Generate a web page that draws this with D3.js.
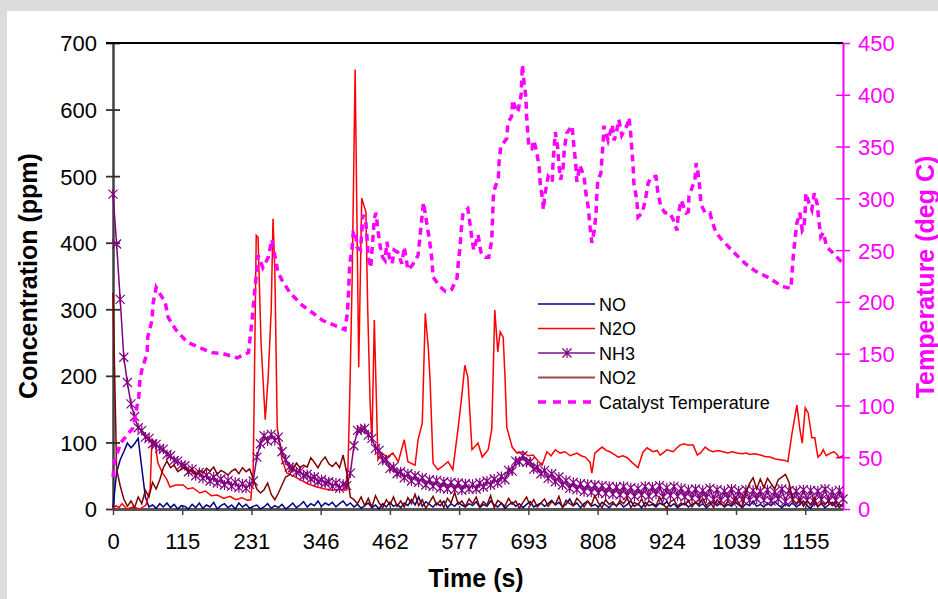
<!DOCTYPE html>
<html lang="en">
<head>
<meta charset="utf-8">
<title>Concentration and Catalyst Temperature</title>
<script src="https://cdn.jsdelivr.net/npm/d3@7"></script>
<style>
  body { margin: 0; background: #dcdcdc; }
  svg { display: block; }
  text { font-family: "Liberation Sans", Arial, sans-serif; }
</style>
</head>
<body>
<script>
// sample grid for the dense analyser series (s)
const sampleTime = d3.range(0, 1219, 6);

const noValues = [
  2, 55, 74, 86, 99, 92, 98, 106, 62, 18, 3, 6, 1, 8, 3, 9, 2, 7, 0, 5,
  4, 0, 7, 2, 9, 1, 6, 3, 10, 0, 5, 8, 2, 6, 0, 9, 3, 7, 1, 4,
  6, 0, 3, 8, 1, 5, 2, 7, 0, 4, 9, 2, 6, 11, 3, 8, 5, 12, 4, 9,
  6, 10, 3, 8, 12, 5, 9, 3, 7, 1, 5, 9, 2, 6, 0, 8, 3, 10, 4, 7,
  2, 9, 5, 14, 6, 18, 4, 11, 7, 3, 9, 5, 12, 2, 8, 4, 10, 6, 3, 8,
  5, 11, 2, 7, 4, 12, 6, 3, 9, 1, 6, 10, 4, 8, 2, 7, 11, 3, 6, 9,
  4, 8, 13, 6, 10, 3, 7, 15, 5, 9, 2, 8, 12, 4, 7, 3, 10, 6, 2, 8,
  5, 9, 3, 7, 12, 4, 8, 2, 10, 5, 7, 3, 9, 6, 11, 4, 8, 2, 6, 9,
  3, 7, 10, 4, 8, 2, 6, 11, 5, 9, 3, 7, 4, 10, 6, 2, 8, 5, 12, 4,
  7, 3, 9, 5, 11, 6, 2, 8, 4, 10, 3, 7, 12, 5, 1, 9, 4, 8, 2, 6,
  10, 3, 7, 4
];

const nh3Values = [
  473, 398, 315, 228, 190, 158, 139, 122, 118, 108, 106, 98, 97, 91, 90, 82, 80, 73, 72, 66,
  65, 56, 60, 50, 55, 46, 51, 42, 48, 39, 45, 36, 43, 34, 40, 32, 38, 31, 37, 42,
  78, 98, 110, 102, 112, 103, 108, 86, 74, 63, 62, 55, 57, 50, 52, 45, 48, 41, 44, 39,
  41, 34, 39, 31, 37, 35, 54, 95, 118, 119, 121, 111, 106, 91, 88, 73, 74, 61, 63, 53,
  56, 47, 53, 42, 50, 40, 47, 36, 44, 34, 43, 31, 41, 30, 40, 29, 39, 28, 38, 30,
  37, 30, 39, 33, 42, 36, 45, 39, 49, 44, 58, 57, 72, 71, 80, 70, 71, 60, 63, 53,
  58, 46, 53, 41, 48, 36, 43, 31, 40, 29, 38, 26, 37, 25, 36, 24, 35, 23, 34, 22,
  33, 21, 34, 20, 32, 19, 31, 21, 34, 19, 33, 22, 35, 18, 32, 20, 34, 19, 31, 18,
  29, 16, 30, 15, 28, 17, 31, 14, 29, 13, 27, 16, 30, 12, 27, 14, 29, 13, 28, 15,
  27, 13, 29, 12, 26, 15, 30, 11, 28, 14, 27, 12, 29, 13, 28, 11, 27, 14, 30, 12,
  26, 13, 28, 15
];

const no2Values = [
  325, 60, 35, 15, 4, 12, 2, 18, 8, 28, 18, 40, 30, 44, 62, 72, 62, 66, 56, 60,
  62, 55, 60, 52, 58, 54, 61, 57, 63, 52, 58, 55, 51, 57, 60, 53, 62, 56, 60, 45,
  30, 24, 29, 39, 22, 14, 24, 36, 48, 51, 60, 69, 62, 66, 63, 77, 70, 62, 72, 78,
  68, 64, 70, 62, 81, 54, 18, 14, 8, 18, 5, 16, 3, 20, 9, 2, 14, 6, 18, 4,
  12, 3, 17, 8, 22, 5, 14, 1, 10, 19, 6, 13, 2, 16, 9, 25, 7, 12, 4, 15,
  8, 18, 3, 11, 6, 20, 2, 13, 9, 4, 16, 7, 12, 1, 10, 18, 5, 14, 3, 9,
  15, 4, 11, 7, 19, 2, 13, 8, 5, 16, 10, 3, 12, 6, 20, 9, 2, 14, 7, 11,
  4, 13, 8, 17, 2, 10, 6, 15, 3, 12, 9, 5, 18, 7, 1, 11, 14, 4, 9, 6,
  13, 3, 10, 7, 16, 5, 11, 2, 14, 8, 4, 12, 6, 18, 9, 3, 24, 38, 47, 30,
  45, 32, 46, 38, 30, 44, 48, 52, 40, 14, 8, 15, 4, 12, 6, 17, 3, 10, 7, 13,
  5, 11, 2, 8
];

// [time s, ppm]
const n2oPoints = [
  [0,0],[5,5],[10,2],[15,8],[23,0],[33,3],[45,0],[55,6],[62,30],[65,105],
  [70,100],[75,69],[82,55],[90,44],[95,33],[105,36],[117,36],[125,30],[133,32],[145,24],
  [154,27],[164,20],[174,21],[185,16],[195,19],[205,14],[215,17],[225,13],[230,14],[234,60],
  [239,411],[242,408],[247,250],[254,134],[259,200],[264,300],[267,436],[270,360],[274,123],[282,74],
  [290,54],[300,50],[312,44],[325,38],[340,33],[354,30],[367,28],[379,30],[387,28],[392,60],
  [395,168],[399,344],[404,660],[410,213],[415,467],[422,446],[425,300],[429,160],[432,100],[436,284],
  [439,180],[442,74],[449,84],[457,78],[467,84],[476,71],[486,104],[492,71],[504,66],[509,104],
  [516,129],[521,294],[526,243],[529,194],[534,69],[542,59],[551,65],[559,71],[567,59],[576,123],
  [582,170],[587,216],[592,198],[599,89],[609,99],[616,78],[626,89],[632,120],[637,299],[642,236],
  [646,266],[651,258],[654,200],[657,123],[666,93],[674,84],[684,86],[692,80],[701,81],[709,72],
  [716,66],[724,86],[731,80],[738,89],[746,84],[754,86],[763,80],[774,84],[781,80],[788,78],
  [796,70],[799,54],[804,84],[816,93],[823,88],[829,86],[836,82],[843,78],[851,80],[858,77],
  [866,70],[876,62],[884,85],[891,92],[901,86],[908,88],[913,81],[919,85],[924,89],[935,86],
  [941,92],[946,96],[953,98],[958,96],[968,96],[975,81],[981,85],[988,93],[995,88],[1001,86],
  [1010,88],[1018,86],[1026,84],[1033,86],[1041,84],[1050,83],[1056,84],[1063,82],[1071,83],[1080,81],
  [1088,79],[1096,78],[1105,75],[1113,74],[1121,73],[1126,71],[1133,114],[1141,156],[1146,120],[1150,99],
  [1155,152],[1160,144],[1166,107],[1171,107],[1176,78],[1181,82],[1185,89],[1190,80],[1197,84],[1203,86],
  [1208,82],[1211,77],[1218,80]
];

// [time s, deg C]
const tempPoints = [
  [0,31],[3,47],[13,64],[33,78],[38,93],[43,108],[45,125],[48,134],[57,151],[58,166],
  [65,182],[67,199],[72,214],[78,208],[87,200],[92,185],[105,173],[124,161],[140,157],[165,151],
  [184,150],[207,146],[226,151],[232,182],[237,214],[240,231],[242,245],[250,233],[259,243],[265,260],
  [270,245],[275,229],[282,221],[295,209],[315,197],[334,189],[350,182],[367,178],[387,173],[391,189],
  [393,209],[395,237],[399,252],[401,268],[405,268],[407,253],[413,250],[415,267],[417,284],[422,276],
  [424,260],[426,243],[430,233],[434,264],[436,281],[439,286],[442,269],[446,253],[450,243],[454,240],
  [457,258],[461,243],[466,237],[469,250],[475,248],[482,237],[486,253],[492,231],[500,236],[509,245],
  [512,262],[518,296],[524,274],[528,260],[532,242],[534,224],[545,215],[555,210],[565,212],[574,223],
  [576,237],[579,253],[581,269],[584,286],[592,290],[596,274],[599,260],[602,250],[609,265],[614,248],
  [621,243],[627,243],[632,260],[633,276],[634,292],[635,306],[643,320],[644,334],[647,350],[651,353],
  [657,358],[659,373],[665,379],[667,395],[674,383],[676,385],[681,400],[683,429],[686,411],[689,397],
  [690,380],[692,364],[694,349],[699,348],[702,356],[707,345],[711,330],[713,313],[717,298],[718,289],
  [721,305],[726,321],[733,316],[734,332],[736,349],[738,364],[742,349],[744,332],[747,318],[751,330],
  [753,347],[757,363],[766,370],[769,350],[772,334],[774,316],[779,332],[786,321],[789,305],[793,291],
  [796,272],[799,257],[803,269],[806,286],[807,301],[809,318],[814,324],[816,340],[818,356],[819,370],
  [826,356],[833,371],[836,356],[839,361],[844,376],[849,361],[858,371],[861,378],[864,361],[866,345],
  [868,329],[869,315],[874,298],[876,282],[883,286],[888,298],[893,315],[899,321],[906,321],[909,306],
  [914,292],[921,286],[929,286],[935,279],[941,269],[943,284],[948,298],[956,286],[960,287],[961,302],
  [971,318],[973,334],[976,325],[979,310],[981,294],[988,286],[996,286],[999,279],[1006,267],[1016,260],
  [1024,255],[1039,246],[1055,237],[1071,230],[1095,223],[1116,215],[1131,213],[1133,228],[1135,244],[1138,261],
  [1141,276],[1146,286],[1150,269],[1153,272],[1155,289],[1156,305],[1161,296],[1166,289],[1170,305],[1175,294],
  [1178,277],[1181,263],[1185,267],[1191,253],[1200,248],[1213,240],[1218,238]
];

const timeTicks = [0, 115.5, 231, 346.5, 462, 577.5, 693, 808.5, 924, 1039.5, 1155];
const timeLabels = ["0", "115", "231", "346", "462", "577", "693", "808", "924", "1039", "1155"];
const concTicks = [0, 100, 200, 300, 400, 500, 600, 700];
const tempTicks = [0, 50, 100, 150, 200, 250, 300, 350, 400, 450];
const legendNames = ["NO", "N2O", "NH3", "NO2", "Catalyst Temperature"];

const W = 938, H = 599;
const plotL = 113, plotR = 843, plotT = 43, plotB = 509;
const magenta = "#ff00ff";

const svg = d3.select("body").append("svg").attr("width", W).attr("height", H);
svg.append("rect").attr("width", W).attr("height", H).attr("fill", "#dcdcdc");
svg.append("rect").attr("x", 7).attr("y", 11).attr("width", W - 7).attr("height", H - 11).attr("fill", "#fff");

const x = d3.scaleLinear().domain([0, 1218]).range([plotL, plotR]);
const yL = d3.scaleLinear().domain([0, 700]).range([plotB, plotT]);
const yR = d3.scaleLinear().domain([0, 450]).range([plotB, plotT]);

// axes
const gL = svg.append("g").attr("transform", `translate(${plotL},0)`)
  .call(d3.axisLeft(yL).tickValues(concTicks).tickSize(7).tickSizeOuter(0).tickPadding(9));
gL.attr("font-family", null);
gL.select(".domain").attr("stroke", "#404040").attr("stroke-width", 2.5);
gL.selectAll(".tick line").attr("x1", 7).attr("stroke", "#303030").attr("stroke-width", 1.8);
gL.selectAll(".tick text").attr("font-size", 22).attr("fill", "#000").attr("dy", "0.36em");

const gR = svg.append("g").attr("transform", `translate(${plotR},0)`)
  .call(d3.axisRight(yR).tickValues(tempTicks).tickSize(7).tickSizeOuter(0).tickPadding(8));
gR.attr("font-family", null);
gR.select(".domain").attr("stroke", magenta).attr("stroke-width", 2);
gR.selectAll(".tick line").attr("x1", -7).attr("stroke", magenta).attr("stroke-width", 1.5);
gR.selectAll(".tick text").attr("font-size", 22).attr("fill", magenta).attr("dy", "0.36em");

const gB = svg.append("g").attr("transform", `translate(0,${plotB})`)
  .call(d3.axisBottom(x).tickValues(timeTicks).tickFormat((d, i) => timeLabels[i])
    .tickSize(6).tickSizeOuter(0).tickPadding(18));
gB.attr("font-family", null);
gB.select(".domain").attr("stroke", "#555").attr("stroke-width", 3);
gB.selectAll(".tick line").attr("y1", -3).attr("stroke", "#444").attr("stroke-width", 1.5);
gB.selectAll(".tick text").attr("font-size", 22).attr("fill", "#000");

svg.append("line").attr("x1", plotL - 7).attr("x2", plotR).attr("y1", plotT).attr("y2", plotT)
  .attr("stroke", "#000").attr("stroke-width", 2);

// series
const onGrid = vals => vals.map((v, i) => [sampleTime[i], v]);
const lineC = d3.line().x(d => x(d[0])).y(d => yL(d[1]));
const lineT = d3.line().x(d => x(d[0])).y(d => yR(d[1]));

svg.append("path").attr("d", lineC(onGrid(noValues)))
  .attr("fill", "none").attr("stroke", "#000080").attr("stroke-width", 1.5);
svg.append("path").attr("d", lineC(n2oPoints))
  .attr("fill", "none").attr("stroke", "#ff0000").attr("stroke-width", 1.5);

const nh3 = onGrid(nh3Values);
svg.append("path").attr("d", lineC(nh3))
  .attr("fill", "none").attr("stroke", "#800080").attr("stroke-width", 1.5);
const star = "M-4.5,-4.5L4.5,4.5M-4.5,4.5L4.5,-4.5M0,-5L0,5";
svg.append("g").selectAll("path").data(nh3).join("path")
  .attr("transform", d => `translate(${x(d[0])},${yL(d[1])})`)
  .attr("d", star).attr("fill", "none").attr("stroke", "#800080").attr("stroke-width", 1.2);

svg.append("path").attr("d", lineC(onGrid(no2Values)))
  .attr("fill", "none").attr("stroke", "#800000").attr("stroke-width", 1.5);

svg.append("path").attr("d", lineT(tempPoints))
  .attr("fill", "none").attr("stroke", magenta).attr("stroke-width", 3.5)
  .attr("stroke-dasharray", "7,5");

// titles
svg.append("text").attr("transform", "translate(37,276) rotate(-90)")
  .attr("text-anchor", "middle").attr("font-size", 25).attr("font-weight", "bold")
  .text("Concentration (ppm)");
svg.append("text").attr("transform", "translate(934,277) rotate(-90)")
  .attr("text-anchor", "middle").attr("font-size", 25).attr("font-weight", "bold")
  .attr("fill", magenta).text("Temperature (deg C)");
svg.append("text").attr("x", 476).attr("y", 587)
  .attr("text-anchor", "middle").attr("font-size", 25).attr("font-weight", "bold")
  .text("Time (s)");

// legend
const legendColors = ["#000080", "#ff0000", "#9b4dab", "#a04545", magenta];
const lg = svg.append("g").attr("transform", "translate(538,304)");
legendNames.forEach((name, i) => {
  const row = lg.append("g").attr("transform", `translate(0,${i * 24.5})`);
  row.append("line").attr("x1", 0).attr("x2", 57)
    .attr("stroke", legendColors[i])
    .attr("stroke-width", i === 4 ? 3.5 : (i >= 2 ? 2 : 1.5))
    .attr("stroke-dasharray", i === 4 ? "8,7" : null);
  if (i === 2) {
    row.append("path").attr("transform", "translate(29,0)").attr("d", star)
      .attr("fill", "none").attr("stroke", "#800080").attr("stroke-width", 1.2);
  }
  row.append("text").attr("x", 61).attr("y", 6.5).attr("font-size", 18)
    .attr("fill", "#000").text(name);
});
</script>
</body>
</html>
